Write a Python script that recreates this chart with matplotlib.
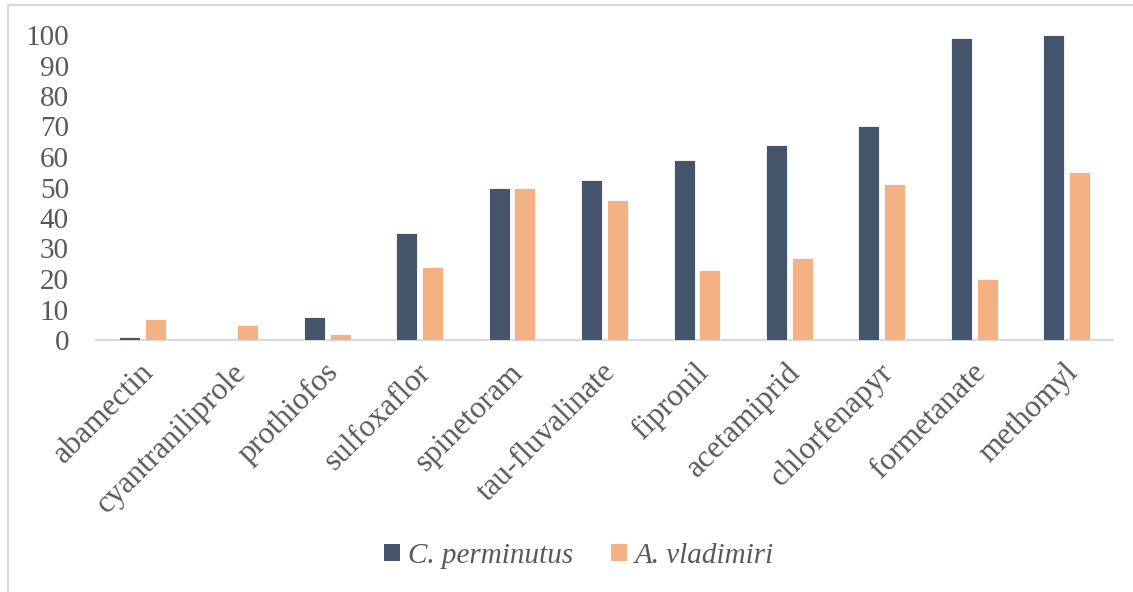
import matplotlib
matplotlib.use("Agg")
import matplotlib.pyplot as plt
from matplotlib.transforms import ScaledTranslation
from matplotlib.patches import Patch
from matplotlib.lines import Line2D
import numpy as np

# Insecticide names and mortality values per species
insecticides = ["abamectin", "cyantraniliprole", "prothiofos", "sulfoxaflor",
                "spinetoram", "tau-fluvalinate", "fipronil", "acetamiprid",
                "chlorfenapyr", "formetanate", "methomyl"]
c_perminutus = [1, 0, 7.5, 35, 50, 52.5, 59, 64, 70, 99, 100]
a_vladimiri = [7, 5, 2, 24, 50, 46, 23, 27, 51, 20, 55]
y_ticks = [0, 10, 20, 30, 40, 50, 60, 70, 80, 90, 100]

series_names = ["C. perminutus", "A. vladimiri"]
series_colors = ["#44546A", "#F4B183"]
text_color = "#595959"

plt.rcParams["font.family"] = ["Liberation Serif", "DejaVu Serif"]

fig = plt.figure(figsize=(11.33, 5.92), dpi=100)
ax = fig.add_axes([96 / 1133, 1 - 340 / 592, (1113 - 96) / 1133, (340 - 35) / 592])

x = np.arange(len(insecticides))
bw = 0.227
off = 0.14
ax.bar(x - off, c_perminutus, bw, color=series_colors[0], edgecolor="white",
       linewidth=0.6, zorder=3)
ax.bar(x + off, a_vladimiri, bw, color=series_colors[1], edgecolor="white",
       linewidth=0.6, zorder=3)

ax.set_xlim(-0.5, len(insecticides) - 0.5)
ax.set_ylim(0, 100)
ax.set_yticks(y_ticks)
ax.tick_params(axis="y", length=0, pad=19.5, labelsize=21, labelcolor=text_color)
ax.set_xticks([])
for side in ["left", "right", "top"]:
    ax.spines[side].set_visible(False)
ax.spines["bottom"].set_color("#D9D9D9")
ax.spines["bottom"].set_linewidth(1.6)
ax.set_facecolor("none")

# Rotated category labels under the axis
lbl_shift = ScaledTranslation(0.07, -0.28, fig.dpi_scale_trans)
for xi, name in zip(x, insecticides):
    ax.text(xi, 0, name, transform=ax.get_xaxis_transform() + lbl_shift,
            rotation=45, ha="right", va="center", rotation_mode="anchor",
            fontsize=22.5, color=text_color)

handles = [Patch(facecolor=c, edgecolor="none") for c in series_colors]
leg = fig.legend(handles, series_names, loc="center", bbox_to_anchor=(0.511, 0.061),
                 ncol=2, frameon=False, handlelength=0.55, handleheight=0.55,
                 handletextpad=0.25, columnspacing=1.3,
                 prop={"family": "Liberation Serif", "style": "italic", "size": 21})
for t in leg.get_texts():
    t.set_color(text_color)

# Chart frame
fig.add_artist(Line2D([8 / 1133, 1], [1 - 5 / 592, 1 - 5 / 592], color="#D9D9D9", lw=1.5))
fig.add_artist(Line2D([8 / 1133, 8 / 1133], [0, 1 - 5 / 592], color="#D9D9D9", lw=1.5))

fig.savefig("out.png", dpi=100)
